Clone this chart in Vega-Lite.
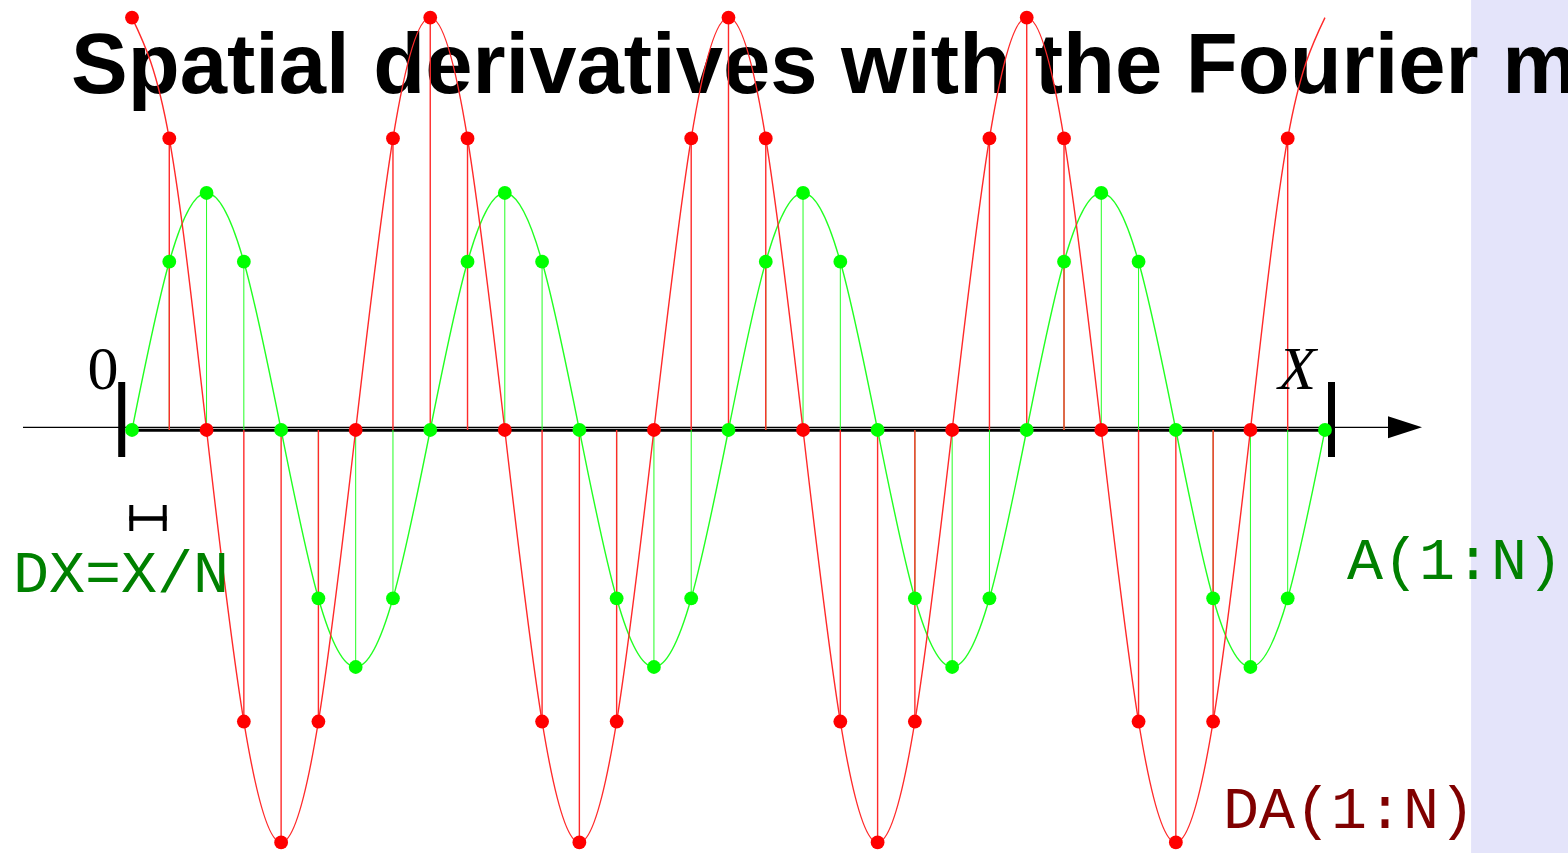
{
  "$schema": "https://vega.github.io/schema/vega-lite/v6.json",
  "width": 1568,
  "height": 853,
  "padding": 0,
  "autosize": {"type": "none"},
  "background": "#ffffff",
  "config": {"view": {"stroke": null}},
  "datasets": {
    "samples": [
      {"n": 0, "A": 0, "DA": 1.74},
      {"n": 1, "A": 0.71, "DA": 1.23},
      {"n": 2, "A": 1, "DA": 0},
      {"n": 3, "A": 0.71, "DA": -1.23},
      {"n": 4, "A": 0, "DA": -1.74},
      {"n": 5, "A": -0.71, "DA": -1.23},
      {"n": 6, "A": -1, "DA": 0},
      {"n": 7, "A": -0.71, "DA": 1.23},
      {"n": 8, "A": 0, "DA": 1.74},
      {"n": 9, "A": 0.71, "DA": 1.23},
      {"n": 10, "A": 1, "DA": 0},
      {"n": 11, "A": 0.71, "DA": -1.23},
      {"n": 12, "A": 0, "DA": -1.74},
      {"n": 13, "A": -0.71, "DA": -1.23},
      {"n": 14, "A": -1, "DA": 0},
      {"n": 15, "A": -0.71, "DA": 1.23},
      {"n": 16, "A": 0, "DA": 1.74},
      {"n": 17, "A": 0.71, "DA": 1.23},
      {"n": 18, "A": 1, "DA": 0},
      {"n": 19, "A": 0.71, "DA": -1.23},
      {"n": 20, "A": 0, "DA": -1.74},
      {"n": 21, "A": -0.71, "DA": -1.23},
      {"n": 22, "A": -1, "DA": 0},
      {"n": 23, "A": -0.71, "DA": 1.23},
      {"n": 24, "A": 0, "DA": 1.74},
      {"n": 25, "A": 0.71, "DA": 1.23},
      {"n": 26, "A": 1, "DA": 0},
      {"n": 27, "A": 0.71, "DA": -1.23},
      {"n": 28, "A": 0, "DA": -1.74},
      {"n": 29, "A": -0.71, "DA": -1.23},
      {"n": 30, "A": -1, "DA": 0},
      {"n": 31, "A": -0.71, "DA": 1.23},
      {"n": 32, "A": 0, "DA": 1.74}
    ]
  },
  "layer": [
    {
      "data": {"values": [{}]},
      "mark": {"type": "rect", "color": "#e4e4fa"},
      "encoding": {
        "x": {"datum": 35.92, "type": "quantitative", "scale": {"domain": [-3.5408, 38.519], "nice": false, "zero": false}, "axis": null},
        "x2": {"datum": 38.6},
        "y": {"datum": 1.8143, "type": "quantitative", "scale": {"domain": [-1.7848, 1.8143], "nice": false, "zero": false}, "axis": null},
        "y2": {"datum": -1.7848}
      }
    },
    {
      "data": {"values": [{"label": "Spatial derivatives with the Fourier method"}]},
      "mark": {"type": "text", "font": "Liberation Sans", "fontWeight": "bold", "fontSize": 85, "align": "left", "baseline": "alphabetic", "color": "#000000"},
      "encoding": {
        "x": {"datum": -1.636, "type": "quantitative", "scale": {"domain": [-3.5408, 38.519], "nice": false, "zero": false}, "axis": null},
        "y": {"datum": 1.4232, "type": "quantitative", "scale": {"domain": [-1.7848, 1.8143], "nice": false, "zero": false}, "axis": null},
        "text": {"field": "label"}
      }
    },
    {
      "data": {"values": [{}]},
      "mark": {"type": "rule", "color": "#000000", "strokeWidth": 1.2},
      "encoding": {
        "x": {"datum": -2.924, "type": "quantitative", "scale": {"domain": [-3.5408, 38.519], "nice": false, "zero": false}, "axis": null},
        "x2": {"datum": 33.8},
        "y": {"datum": 0.0114, "type": "quantitative", "scale": {"domain": [-1.7848, 1.8143], "nice": false, "zero": false}, "axis": null}
      }
    },
    {
      "data": {"values": [{}]},
      "mark": {"type": "rule", "color": "#000000", "strokeWidth": 3},
      "encoding": {
        "x": {"datum": -0.1, "type": "quantitative", "scale": {"domain": [-3.5408, 38.519], "nice": false, "zero": false}, "axis": null},
        "x2": {"datum": 32},
        "y": {"datum": -0.001, "type": "quantitative", "scale": {"domain": [-1.7848, 1.8143], "nice": false, "zero": false}, "axis": null}
      }
    },
    {
      "data": {"values": [{}]},
      "mark": {"type": "point", "shape": "M -1 -0.65 L 1 0 L -1 0.65 Z", "size": 1156, "filled": true, "opacity": 1, "color": "#000000"},
      "encoding": {
        "x": {"datum": 34.147, "type": "quantitative", "scale": {"domain": [-3.5408, 38.519], "nice": false, "zero": false}, "axis": null},
        "y": {"datum": 0.0114, "type": "quantitative", "scale": {"domain": [-1.7848, 1.8143], "nice": false, "zero": false}, "axis": null}
      }
    },
    {
      "data": {"values": [{}]},
      "mark": {"type": "rule", "color": "#000000", "strokeWidth": 7},
      "encoding": {
        "x": {"datum": -0.276, "type": "quantitative", "scale": {"domain": [-3.5408, 38.519], "nice": false, "zero": false}, "axis": null},
        "y": {"datum": 0.2025, "type": "quantitative", "scale": {"domain": [-1.7848, 1.8143], "nice": false, "zero": false}, "axis": null},
        "y2": {"datum": -0.1139}
      }
    },
    {
      "data": {"values": [{}]},
      "mark": {"type": "rule", "color": "#000000", "strokeWidth": 7},
      "encoding": {
        "x": {"datum": 32.175, "type": "quantitative", "scale": {"domain": [-3.5408, 38.519], "nice": false, "zero": false}, "axis": null},
        "y": {"datum": 0.2025, "type": "quantitative", "scale": {"domain": [-1.7848, 1.8143], "nice": false, "zero": false}, "axis": null},
        "y2": {"datum": -0.1139}
      }
    },
    {
      "data": {"values": [{}]},
      "mark": {"type": "rule", "color": "#000000", "strokeWidth": 4.5},
      "encoding": {
        "x": {"datum": -0.0724, "type": "quantitative", "scale": {"domain": [-3.5408, 38.519], "nice": false, "zero": false}, "axis": null},
        "x2": {"datum": 0.9308},
        "y": {"datum": -0.3734, "type": "quantitative", "scale": {"domain": [-1.7848, 1.8143], "nice": false, "zero": false}, "axis": null}
      }
    },
    {
      "data": {"values": [{}]},
      "mark": {"type": "rule", "color": "#000000", "strokeWidth": 4},
      "encoding": {
        "x": {"datum": -0.019, "type": "quantitative", "scale": {"domain": [-3.5408, 38.519], "nice": false, "zero": false}, "axis": null},
        "y": {"datum": -0.3165, "type": "quantitative", "scale": {"domain": [-1.7848, 1.8143], "nice": false, "zero": false}, "axis": null},
        "y2": {"datum": -0.4262}
      }
    },
    {
      "data": {"values": [{}]},
      "mark": {"type": "rule", "color": "#000000", "strokeWidth": 4},
      "encoding": {
        "x": {"datum": 0.877, "type": "quantitative", "scale": {"domain": [-3.5408, 38.519], "nice": false, "zero": false}, "axis": null},
        "y": {"datum": -0.3165, "type": "quantitative", "scale": {"domain": [-1.7848, 1.8143], "nice": false, "zero": false}, "axis": null},
        "y2": {"datum": -0.4262}
      }
    },
    {
      "data": {"name": "samples"},
      "mark": {"type": "rule", "color": "#22ff22", "strokeWidth": 1},
      "encoding": {
        "x": {"field": "n", "type": "quantitative", "scale": {"domain": [-3.5408, 38.519], "nice": false, "zero": false}, "axis": null},
        "y": {"field": "A", "type": "quantitative", "scale": {"domain": [-1.7848, 1.8143], "nice": false, "zero": false}, "axis": null},
        "y2": {"datum": 0}
      }
    },
    {
      "data": {"name": "samples"},
      "transform": [{"filter": "datum.n >= 1 && datum.n <= 31"}],
      "mark": {"type": "rule", "color": "#ff2a2a", "strokeWidth": 1.4},
      "encoding": {
        "x": {"field": "n", "type": "quantitative", "scale": {"domain": [-3.5408, 38.519], "nice": false, "zero": false}, "axis": null},
        "y": {"field": "DA", "type": "quantitative", "scale": {"domain": [-1.7848, 1.8143], "nice": false, "zero": false}, "axis": null},
        "y2": {"datum": 0}
      }
    },
    {
      "data": {"name": "samples"},
      "mark": {"type": "line", "interpolate": "natural", "color": "#22ff22", "strokeWidth": 1.4},
      "encoding": {
        "x": {"field": "n", "type": "quantitative", "scale": {"domain": [-3.5408, 38.519], "nice": false, "zero": false}, "axis": null},
        "y": {"field": "A", "type": "quantitative", "scale": {"domain": [-1.7848, 1.8143], "nice": false, "zero": false}, "axis": null}
      }
    },
    {
      "data": {"name": "samples"},
      "mark": {"type": "line", "interpolate": "natural", "color": "#ff2a2a", "strokeWidth": 1.4},
      "encoding": {
        "x": {"field": "n", "type": "quantitative", "scale": {"domain": [-3.5408, 38.519], "nice": false, "zero": false}, "axis": null},
        "y": {"field": "DA", "type": "quantitative", "scale": {"domain": [-1.7848, 1.8143], "nice": false, "zero": false}, "axis": null}
      }
    },
    {
      "data": {"name": "samples"},
      "mark": {"type": "point", "shape": "circle", "filled": true, "opacity": 1, "size": 190, "color": "#00ff00"},
      "encoding": {
        "x": {"field": "n", "type": "quantitative", "scale": {"domain": [-3.5408, 38.519], "nice": false, "zero": false}, "axis": null},
        "y": {"field": "A", "type": "quantitative", "scale": {"domain": [-1.7848, 1.8143], "nice": false, "zero": false}, "axis": null}
      }
    },
    {
      "data": {"name": "samples"},
      "transform": [{"filter": "datum.n <= 31"}],
      "mark": {"type": "point", "shape": "circle", "filled": true, "opacity": 1, "size": 190, "color": "#ff0000"},
      "encoding": {
        "x": {"field": "n", "type": "quantitative", "scale": {"domain": [-3.5408, 38.519], "nice": false, "zero": false}, "axis": null},
        "y": {"field": "DA", "type": "quantitative", "scale": {"domain": [-1.7848, 1.8143], "nice": false, "zero": false}, "axis": null}
      }
    },
    {
      "data": {"values": [{"label": "0"}]},
      "mark": {"type": "text", "font": "Liberation Serif", "fontSize": 62, "align": "center", "baseline": "alphabetic", "color": "#000000"},
      "encoding": {
        "x": {"datum": -0.778, "type": "quantitative", "scale": {"domain": [-3.5408, 38.519], "nice": false, "zero": false}, "axis": null},
        "y": {"datum": 0.173, "type": "quantitative", "scale": {"domain": [-1.7848, 1.8143], "nice": false, "zero": false}, "axis": null},
        "text": {"field": "label"}
      }
    },
    {
      "data": {"values": [{"label": "X"}]},
      "mark": {"type": "text", "font": "Liberation Serif", "fontStyle": "italic", "fontSize": 62, "align": "center", "baseline": "alphabetic", "color": "#000000"},
      "encoding": {
        "x": {"datum": 31.255, "type": "quantitative", "scale": {"domain": [-3.5408, 38.519], "nice": false, "zero": false}, "axis": null},
        "y": {"datum": 0.173, "type": "quantitative", "scale": {"domain": [-1.7848, 1.8143], "nice": false, "zero": false}, "axis": null},
        "text": {"field": "label"}
      }
    },
    {
      "data": {"values": [{"label": "DX=X/N"}]},
      "mark": {"type": "text", "font": "Liberation Mono", "fontSize": 60, "align": "left", "baseline": "alphabetic", "color": "#008000"},
      "encoding": {
        "x": {"datum": -3.19, "type": "quantitative", "scale": {"domain": [-3.5408, 38.519], "nice": false, "zero": false}, "axis": null},
        "y": {"datum": -0.6835, "type": "quantitative", "scale": {"domain": [-1.7848, 1.8143], "nice": false, "zero": false}, "axis": null},
        "text": {"field": "label"}
      }
    },
    {
      "data": {"values": [{"label": "A(1:N)"}]},
      "mark": {"type": "text", "font": "Liberation Mono", "fontSize": 60, "align": "left", "baseline": "alphabetic", "color": "#008000"},
      "encoding": {
        "x": {"datum": 32.59, "type": "quantitative", "scale": {"domain": [-3.5408, 38.519], "nice": false, "zero": false}, "axis": null},
        "y": {"datum": -0.6287, "type": "quantitative", "scale": {"domain": [-1.7848, 1.8143], "nice": false, "zero": false}, "axis": null},
        "text": {"field": "label"}
      }
    },
    {
      "data": {"values": [{"label": "DA(1:N)"}]},
      "mark": {"type": "text", "font": "Liberation Mono", "fontSize": 60, "align": "left", "baseline": "alphabetic", "color": "#800000"},
      "encoding": {
        "x": {"datum": 29.265, "type": "quantitative", "scale": {"domain": [-3.5408, 38.519], "nice": false, "zero": false}, "axis": null},
        "y": {"datum": -1.679, "type": "quantitative", "scale": {"domain": [-1.7848, 1.8143], "nice": false, "zero": false}, "axis": null},
        "text": {"field": "label"}
      }
    }
  ]
}
